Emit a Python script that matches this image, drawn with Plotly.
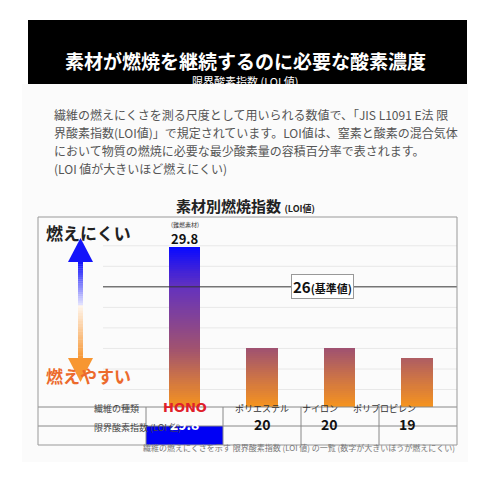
import plotly.graph_objects as go

categories = ["HONO", "ポリエステル", "ナイロン", "ポリプロピレン"]
loi_values = [29.8, 20, 20, 19]
value_labels = ["29.8", "20", "20", "19"]
standard_value = 26
grid_values = [16, 18, 20, 22, 24, 28, 30]

W = H = 490
def px(x): return x / W
def py(y): return 1 - y / H

YMIN, YMAX = 14.3, 32.8
FONT = "Noto Sans CJK JP"

def lerp(a, b, t): return tuple(a[i] + (b[i] - a[i]) * t for i in range(3))
stops = [(14.3, (247, 148, 30)), (20, (160, 82, 112)), (26, (100, 50, 190)), (29.8, (10, 10, 255))]
def color_at(v):
    if v <= stops[0][0]: c = stops[0][1]
    elif v >= stops[-1][0]: c = stops[-1][1]
    else:
        for (a, ca), (b, cb) in zip(stops, stops[1:]):
            if a <= v <= b:
                c = lerp(ca, cb, (v - a) / (b - a)); break
    return "rgb(%d,%d,%d)" % tuple(int(round(x)) for x in c)

fig = go.Figure()
step = 0.2
level = YMIN
while level < max(loi_values) - 1e-9:
    ys = [max(0, min(step, v - level)) for v in loi_values]
    fig.add_trace(go.Bar(x=list(range(len(categories))), y=ys, base=[level] * len(categories),
                         width=0.41, marker=dict(color=color_at(level + step / 2), line=dict(width=0)),
                         showlegend=False, hoverinfo="skip"))
    level += step

shapes = []
ann = []
shapes.append(dict(type="rect", xref="paper", yref="paper", x0=px(22), x1=px(468), y0=py(462), y1=py(84),
                   fillcolor="#fbfbfb", line=dict(width=0), layer="below"))
shapes.append(dict(type="rect", xref="paper", yref="paper", x0=px(28), x1=px(467), y0=py(84), y1=py(20),
                   fillcolor="black", line=dict(width=0)))
ann.append(dict(text="<b>素材が燃焼を継続するのに必要な酸素濃度</b>", x=0.5, y=py(45), font=dict(size=19, color="white")))
ann.append(dict(text="限界酸素指数 (LOI 値)", x=0.5, y=py(71), font=dict(size=11, color="white")))
body = ["繊維の燃えにくさを測る尺度として用いられる数値で、「JIS L1091 E法 限",
        "界酸素指数(LOI値)」で規定されています。LOI値は、窒素と酸素の混合気体",
        "において物質の燃焼に必要な最少酸素量の容積百分率で表されます。",
        "(LOI 値が大きいほど燃えにくい)"]
for i, t in enumerate(body):
    ann.append(dict(text=t, x=px(52), y=py(104 + i * 18), xanchor="left", font=dict(size=12, color="#555")))
ann.append(dict(text="<b>素材別燃焼指数</b> <span style='font-size:9px'><b>(LOI値)</b></span>", x=0.5, y=py(206),
                font=dict(size=15, color="#222")))
for g in grid_values:
    shapes.append(dict(type="line", xref="paper", yref="y", x0=px(103), x1=px(457), y0=g, y1=g,
                       line=dict(color="#e8e8e8", width=1), layer="below"))
shapes.append(dict(type="line", xref="paper", yref="y", x0=px(103), x1=px(457), y0=standard_value, y1=standard_value,
                   line=dict(color="#333", width=1)))
ann.append(dict(text="<b>26</b><span style='font-size:11px'><b>(基準値)</b></span>", x=px(322), y=standard_value, yref="y",
                font=dict(size=15, color="#111"), bgcolor="white", bordercolor="#999", borderwidth=1, borderpad=1))
ann.append(dict(text="(難燃素材)", x=0, xref="x", y=py(225), font=dict(size=6, color="#333")))
ann.append(dict(text="<b>%s</b>" % value_labels[0], x=0, xref="x", y=py(238), font=dict(size=13, color="#111")))
ann.append(dict(text="<b>燃えにくい</b>", x=px(44), y=py(233), xanchor="left", font=dict(size=17, color="#222")))
ann.append(dict(text="<b>燃えやすい</b>", x=px(44), y=py(390), xanchor="left", font=dict(size=17, color="#ec6a2c")))
shapes.append(dict(type="path", xref="paper", yref="paper",
                   path="M %f %f L %f %f L %f %f Z" % (px(80.5), py(238), px(68), py(262), px(93), py(262)),
                   fillcolor="rgb(20,20,250)", line=dict(width=0)))
shapes.append(dict(type="path", xref="paper", yref="paper",
                   path="M %f %f L %f %f L %f %f Z" % (px(80.5), py(382), px(68), py(358), px(93), py(358)),
                   fillcolor="rgb(247,150,50)", line=dict(width=0)))
n = 20
for i in range(n):
    t = i / n
    y0 = 262 + (305 - 262) * t
    c = lerp((20, 20, 250), (235, 235, 255), t)
    shapes.append(dict(type="rect", xref="paper", yref="paper", x0=px(78), x1=px(83), y0=py(y0 + 43 / n + 0.3), y1=py(y0),
                       fillcolor="rgb(%d,%d,%d)" % c, line=dict(width=0)))
    y0 = 305 + (358 - 305) * t
    c = lerp((255, 245, 235), (247, 150, 50), t)
    shapes.append(dict(type="rect", xref="paper", yref="paper", x0=px(78), x1=px(83), y0=py(y0 + 53 / n + 0.3), y1=py(y0),
                       fillcolor="rgb(%d,%d,%d)" % c, line=dict(width=0)))
cols = [38, 146, 223, 301, 379, 457]
shapes.append(dict(type="rect", xref="paper", yref="paper", x0=px(146), x1=px(223), y0=py(445), y1=py(426),
                   fillcolor="#0000f5", line=dict(width=0)))
for yy in [407, 426]:
    shapes.append(dict(type="line", xref="paper", yref="paper", x0=px(38), x1=px(457), y0=py(yy), y1=py(yy),
                       line=dict(color="#888", width=1)))
for xx in cols[1:-1]:
    shapes.append(dict(type="line", xref="paper", yref="paper", x0=px(xx), x1=px(xx), y0=py(445), y1=py(407),
                       line=dict(color="#888", width=1)))
shapes.append(dict(type="rect", xref="paper", yref="paper", x0=px(38), x1=px(457), y0=py(445), y1=py(217),
                   line=dict(color="#999", width=1)))
ann.append(dict(text="繊維の種類", x=px(92), y=py(417), font=dict(size=9, color="#444")))
ann.append(dict(text="限界酸素指数 (LOI 値)", x=px(92), y=py(436), font=dict(size=9, color="#444")))
for i, (c, v) in enumerate(zip(categories, value_labels)):
    cx = (cols[i + 1] + cols[i + 2]) / 2
    if i == 0:
        ann.append(dict(text="<b>HONO</b>", x=px(cx), y=py(417), font=dict(size=13, color="#e0202a", family="DejaVu Sans")))
        ann.append(dict(text="<b>%s</b>" % v, x=px(cx), y=py(436), font=dict(size=14, color="white")))
    else:
        ann.append(dict(text=c, x=px(cx), y=py(417), font=dict(size=9, color="#333")))
        ann.append(dict(text="<b>%s</b>" % v, x=px(cx), y=py(436), font=dict(size=14, color="#111")))
ann.append(dict(text="繊維の燃えにくさを示す 限界酸素指数 (LOI 値) の一覧 (数字が大きいほうが燃えにくい)", x=px(457), y=py(455),
                xanchor="right", font=dict(size=8, color="#777")))
for a in ann:
    a.setdefault("xref", "paper"); a.setdefault("yref", "paper"); a.setdefault("showarrow", False)

x_lo = -(184.5 - 38) / 77.5
x_hi = (457 - 184.5) / 77.5
fig.update_layout(width=W, height=H, margin=dict(l=0, r=0, t=0, b=0), paper_bgcolor="white", plot_bgcolor="rgba(0,0,0,0)",
                  barmode="overlay", bargap=0, font=dict(family=FONT),
                  xaxis=dict(domain=[px(38), px(457)], range=[x_lo, x_hi], visible=False, fixedrange=True),
                  yaxis=dict(domain=[py(407), py(217)], range=[YMIN, YMAX], visible=False, fixedrange=True),
                  shapes=shapes, annotations=ann)
fig.write_html("out.html", config={"displayModeBar": False},
               post_script="document.body.style.margin='0';document.body.style.overflow='hidden';")
